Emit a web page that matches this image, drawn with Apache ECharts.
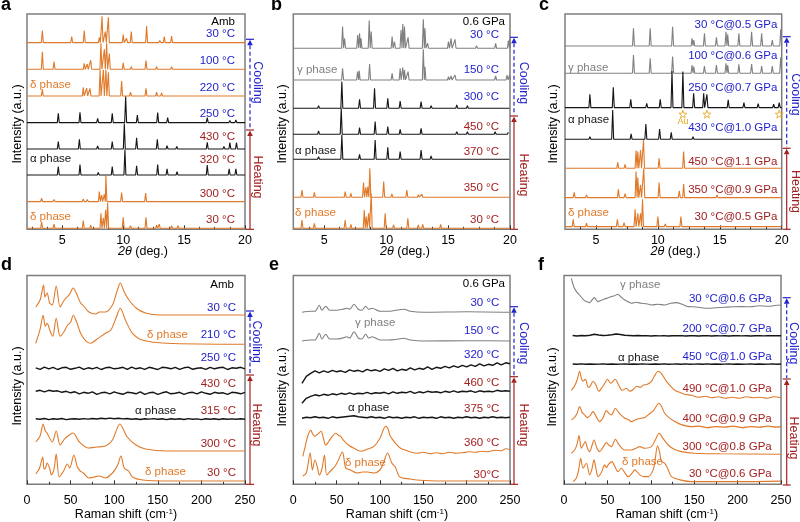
<!DOCTYPE html>
<html><head><meta charset="utf-8">
<script src="https://cdn.jsdelivr.net/npm/echarts@6/dist/echarts.min.js"></script>
<style>html,body{margin:0;padding:0;background:#fff}#c{width:800px;height:522px}</style>
</head><body><div id="c"></div>
<script>
// ================= DATA =================
// XRD peak lists: [2theta (deg), relative intensity]
// Panel a (ambient pressure), top to bottom
const aTemps = ['30 °C','100 °C','220 °C','250 °C','430 °C','320 °C','300 °C','30 °C'];
const aXrd30Cool = [[3.36,46],[5.77,23],[6.8,46],[8.04,20],[8.26,100],[8.53,42],[8.78,96],[10.0,31],[10.28,16],[10.66,42],[11.92,63],[13.0,8],[13.37,23],[13.97,25],[16.0,5],[16.5,4],[19.0,5]];
const aXrd100 = [[3.36,67],[4.32,29],[5.77,5],[6.8,23],[7.05,20],[7.33,35],[8.17,99],[8.45,76],[8.64,99],[8.86,60],[10.0,25],[10.66,10],[11.87,33],[12.74,10],[13.97,10],[15.0,5],[16.0,4],[18.9,5]];
const aXrd220 = [[3.36,25],[4.32,6],[5.77,6],[6.72,33],[7.0,30],[7.27,29],[8.1,100],[8.37,100],[8.58,100],[8.78,90],[9.87,57],[10.6,15],[11.87,29],[12.74,15],[13.15,12],[14.6,5]];
const aXrd250 = [[4.67,35],[6.45,39],[7.9,16],[9.1,35],[10.2,99],[11.16,29],[12.83,38],[13.65,19],[16.9,19],[18.76,8],[19.25,10]];
const aXrd430 = [[4.67,28],[6.4,37],[7.9,12],[9.1,28],[10.09,97],[11.1,43],[12.8,37],[13.6,13],[14.4,10],[16.9,25],[18.27,10],[18.76,24],[19.3,24]];
const aXrd320 = [[4.67,32],[6.45,40],[7.95,10],[9.1,32],[10.14,97],[11.1,35],[12.83,40],[13.6,23],[14.42,13],[16.9,38],[18.27,5],[18.7,23],[19.25,23]];
const aXrd300 = [[3.3,13],[4.32,8],[6.72,10],[7.05,8],[8.04,38],[8.23,25],[8.45,28],[8.58,97],[9.87,34],[11.84,32],[12.9,6],[14.1,4]];
const aXrd30Heat = [[3.3,25],[4.32,16],[6.72,29],[7.33,12],[8.17,57],[8.37,40],[8.56,70],[8.72,97],[10.0,42],[10.6,10],[11.87,42],[12.74,12],[12.96,16],[13.97,10],[14.5,10],[16.2,4],[17.6,4],[19.0,4]];

// Panel b (0.6 GPa)
const bTemps = ['30 °C','150 °C','300 °C','450 °C','370 °C','350 °C','30 °C'];
const bXrd30Cool = [[6.48,65],[6.64,30],[7.7,40],[7.85,45],[7.97,30],[8.63,83],[8.79,50],[10.48,35],[10.67,20],[11.2,55],[11.34,73],[11.48,65],[11.77,33],[13.0,87],[13.13,60],[13.35,15],[15.03,20],[15.24,30],[15.56,27],[17.3,8],[18.84,15],[19.87,23],[19.98,30]];
const bXrd150 = [[6.48,35],[7.69,25],[7.82,28],[8.66,48],[10.48,20],[11.13,35],[11.34,37],[11.48,30],[11.77,25],[13.0,92],[13.13,40],[15.03,10],[15.24,12],[15.56,15],[18.84,12],[19.76,15],[19.97,15]];
const bXrd300 = [[4.54,8],[6.42,80],[7.85,27],[9.06,60],[10.13,30],[11.13,22],[12.82,20],[13.63,8],[14.5,6],[15.7,10],[16.56,8],[17.3,6],[18.8,6],[19.87,5]];
const bXrd450 = [[4.54,10],[6.37,78],[7.85,20],[9.11,38],[10.13,23],[11.13,15],[12.82,18],[13.63,6],[14.5,6],[15.7,8],[16.56,8],[17.3,6],[18.8,8],[19.87,6]];
const bXrd370 = [[4.54,8],[6.42,73],[7.85,15],[9.11,58],[10.13,36],[11.13,23],[12.82,28],[13.63,10],[14.5,4],[15.7,6],[17.3,4],[18.8,6],[19.87,4]];
const bXrd350 = [[3.2,22],[4.2,15],[5.5,4],[6.69,17],[7.15,12],[8.17,44],[8.36,30],[8.52,32],[8.68,87],[9.8,47],[10.46,10],[11.67,22],[12.6,8],[12.87,10],[14.4,6],[15.5,4]];
const bXrd30Heat = [[3.2,25],[4.2,15],[6.69,25],[7.15,12],[8.23,55],[8.39,35],[8.58,45],[8.79,105],[9.92,45],[10.6,10],[11.75,30],[12.6,10],[12.95,12],[14.4,12],[16.0,5],[17.4,5]];

// Panel c (temperature @ pressure)
const cTemps = ['30 °C@0.5 GPa','100 °C@0.6 GPa','250 °C@0.7 GPa','430 °C@1.0 GPa','450 °C@1.1 GPa','350 °C@0.9 GPa','30 °C@0.5 GPa'];
const cXrd30Cool = [[8.03,53],[9.38,53],[11.19,58],[12.76,23],[12.9,18],[13.76,38],[14.73,26],[15.5,43],[15.64,35],[16.54,38],[17.57,43],[18.38,38],[19.24,18],[19.92,50]];
const cXrd100 = [[8.03,55],[9.38,45],[11.19,50],[12.76,25],[12.9,20],[13.76,22],[14.73,25],[15.5,30],[15.64,25],[16.54,27],[17.57,28],[18.38,22],[19.24,22],[19.92,48]];
const cXrd250 = [[4.51,40],[6.4,61],[7.81,25],[9.1,13],[10.19,25],[11.14,110],[12.02,108],[12.89,43],[13.7,43],[13.96,40],[15.68,23],[16.95,15],[18.1,12],[19.35,10],[19.8,15]];
const cXrd430 = [[4.51,8],[6.35,88],[7.84,16],[9.03,46],[10.14,31],[11.08,21],[12.84,8],[13.7,5],[15.68,6],[16.5,3],[18.1,3]];
const cXrd450 = [[3.24,5],[6.76,18],[7.35,12],[8.24,53],[8.38,50],[8.6,55],[8.84,85],[10.1,30],[12.08,50],[13.3,6]];
const cXrd350 = [[3.24,16],[4.24,8],[6.81,25],[7.35,12],[8.24,78],[8.38,60],[8.6,38],[8.86,88],[10.1,45],[11.73,20],[12.08,41],[14.78,8]];
const cXrd30Heat = [[3.16,22],[4.24,10],[6.73,22],[7.27,12],[8.16,52],[8.38,40],[8.6,40],[8.76,82],[10.0,30],[10.6,8],[11.86,30],[13.0,6],[13.7,6],[14.78,6]];
const auPeaks = [12.02, 13.96, 19.8];

// Raman spectra: [shift (cm-1), intensity]; noisy spectra sampled on ramanGrid
const ramanGrid = [10,15,20,25,30,35,40,45,50,55,60,65,70,75,80,85,90,95,100,105,110,115,120,125,130,135,140,145,150,155,160,165,170,175,180,185,190,195,200,205,210,215,220,225,230,235,240,245,250];

// Panel d (ambient)
const dTemps = ['30 °C','210 °C','250 °C','430 °C','315 °C','300 °C','30 °C'];
const dRaman30Cool = [[10,8],[15,15],[19,30],[20.5,18],[23,22],[26,12],[29,10],[33.5,29],[38,8],[42,14],[46,18],[49,21],[53,27],[56.5,22],[61.5,12],[65,9],[71,3],[79,1],[83,3],[90,3],[98,10],[103,23],[107,32],[111.5,23],[117,15],[125,7],[136,2],[152,0],[250,0]];
const dRaman210 = [[10,1],[15,15],[18.5,29],[21,18],[23,21],[27,12],[29.5,8],[33.5,26],[38,8],[42,12],[46.5,19],[50,22],[53,29],[57,22],[62,10],[68,3],[73,1],[80,5],[90,11],[96,14],[102,26],[107,36],[113,24],[121,11],[133,4],[160,1],[250,0]];
const dRaman250 = [0.5,-1,1.2,-0.5,1,-1.2,0.5,1,-1,0,1.2,-1,0.5,-0.5,1,-1.2,0.5,1,-0.5,0,1,-1,1.2,-0.5,0.5,-1,1,0,-1.2,1,0.5,-0.5,1,-1,0.5,1.2,-1,0,0.5,-1,1,-0.5,0.5,1,-1.2,0.5,0,1,-0.5];
const dRaman430 = [2,3,1.5,3,2,2.5,1,2,0.5,1.5,-0.5,1,0,1.5,-1,0.5,1,-0.5,1.5,0,-1,1,0.5,-0.5,1.5,-1,0.5,1,-1,0.5,1.5,-0.5,0,1,-1,0.5,1,-0.5,1.5,0,-1,1,0,0.5,-1,1,0.5,-0.5,1];
const dRaman315 = [0.5,0,0.8,-0.3,0.5,0,0.8,-0.3,0.3,0.6,0,0.7,0.2,0.8,0.3,1,0.5,1.2,0.6,1,0.4,0.8,0,0.6,-0.2,0.5,0.2,0.7,0,0.5,-0.3,0.6,0.1,0.5,-0.2,0.7,0,0.4,-0.3,0.6,0.1,0.5,-0.2,0.6,0,0.4,0.1,0.6,0];
const dRaman300 = [[10,9],[15,15],[18.5,27],[21,20],[23,18],[29,9],[33.5,20],[38,6],[43,12],[47,15],[53,18],[56,15],[60,9],[70,3],[80,4],[90,5],[98,11],[106.5,27],[115,14],[125,6],[136,2],[160,0],[250,0]];
const dRaman30Heat = [[10,7],[14,12],[18.1,24],[19.5,12],[21.2,13],[23,18],[25.8,13],[28,6],[31,12],[33.5,27],[37,4],[42,10],[46.2,17],[49,13],[53.8,26],[57.7,14],[61,10],[64.6,8],[71,3],[77,4],[82.7,5],[90,3],[98,8],[104,16],[107.7,25],[111.5,13],[116.5,10],[121,4],[133,1],[160,0],[250,0]];

// Panel e (0.6 GPa)
const eTemps = ['30 °C','150 °C','320 °C','460 °C','375 °C','360 °C','30°C'];
const eRaman30Cool = [[10,0],[20,1],[25,1],[30,7],[33,2],[37.5,6],[42,2],[50,2],[57,3],[61.7,4],[65,3],[70,8],[75,3],[79,2],[83.5,6],[87,3],[91,4],[100,1],[110,1],[118,2],[127.6,3],[135,1],[150,0],[200,0.5],[250,0]];
const eRaman150 = [[10,0],[20,1],[25,1],[30,7.7],[33,2],[37.5,6.7],[42,2],[50,2],[57,3],[61.7,4.3],[65,3],[70,9.3],[75,3],[79,2],[83.5,6.7],[87,3],[91,4.3],[100,1],[110,1],[118,1.5],[127.6,2.7],[135,1],[150,0],[200,0.3],[250,0]];
const eRaman320 = [0,7,10,12.5,10.5,12.5,11,13,11.5,12.5,11,13.5,12,13,11.5,14,12.5,13.5,12,14.5,13,15,12.5,14,13,15.5,13.5,15,14,16.5,14,16,15,17,15.5,17.5,16,18,16.5,18.5,17,19.5,17.5,19,18,20.5,18.5,20.5,19.5];
const eRaman460 = [0,5,7,8.5,7.5,9,8,9.5,8.5,10,9,10.5,9,10,9.5,11,9.5,10.5,10,11,9.5,11.5,10,11,10.5,12,10,11.5,10.5,12,11,11.5,10.5,12,11,12.5,11,12,11.5,12.5,11,12.5,11.5,12,11.5,13,12,12.5,12];
const eRaman375 = [0,1,0.5,1.5,0.5,1,0,1.5,0.5,1,1.5,2,2.5,1.5,1,0.5,1.5,0.5,1,0,1.5,0.5,1,0,1,0.5,1.5,0,1,0.5,1,0,1.5,0.5,1,0,1,0.5,1.5,0.5,1,0,1,0.5,1.5,0.5,1,0.5,1];
const eRaman360 = [[11,-3],[14,8],[17,18],[20.3,23],[22.5,19],[25,17],[28,19],[32,22],[35,14],[37.5,8],[41,12],[45,17],[49,20],[52,18],[54.6,17],[58,13],[64,8],[70,5],[78,2],[85,4],[93,7],[100,15],[106.5,27],[109,25],[112,17],[118,10],[123.8,5],[130,3],[136,1],[143,0],[150,1],[158,-0.5],[165,0.5],[172,-0.5],[180,1],[188,0],[195,0.5],[203,1.5],[210,1],[218,2],[225,1.5],[232,3],[240,2.5],[245,4.5],[250,3.5]];
const eRaman30Heat = [[11,5],[15,8],[19.5,28],[22,11],[25,21],[28,13],[30,6],[33,12],[36,26],[38.5,6],[43,10],[47.5,14],[51,19],[56.7,29],[60.5,13],[66,11],[74,8],[80,9],[85.6,9],[93,8],[100,11],[104,18],[108.7,28],[113.7,18],[117.6,14],[123,4],[135,2],[142.5,1],[170,0],[250,0]];

// Panel f (temperature @ pressure)
const fTemps = ['30 °C@0.6 GPa','200 °C@0.7 GPa','450 °C@1.0 GPa','490 °C@1.0 GPa','400 °C@0.9 GPa','300 °C@0.8 GPa','30 °C@0.6 GPa'];
const fRaman30Cool = [[8.5,30],[10,25],[12,20],[15,16],[18,13.3],[22,9],[25.8,6.7],[29.6,5.7],[32,8],[35,10.7],[39,6.7],[43,8],[46.9,9.3],[51,10.5],[54.6,11.7],[58,12.5],[62,14],[66,11],[70,8.3],[74,6.5],[77.7,5],[83,6],[89,5],[95,4.5],[100.8,3.3],[108,4],[116,3.3],[123,5],[129.6,5.7],[136,4],[143,1.7],[150,1.5],[158,0.5],[166,0],[175,0.5],[185,1],[195,1.5],[205,1.7],[215,1.5],[225,2.5],[235,2],[245,3],[250,3.3]];
const fRaman200 = [0.5,0,0.5,0.3,0.8,1.7,1,0.5,0.8,1.3,2,1.5,0.7,0.5,0.3,0.5,0.2,0.4,0,0.3,0.1,0.4,0,0.3,0.2,0.4,0,0.2,0.3,0,0.2,0.4,0,0.3,0.1,0.3,0,0.2,0.4,0.1,0.3,0,0.2,0.4,0.1,0.3,0.2,0.4,0.2];
const fRaman450 = [0.3,0,0.4,0.1,0.3,0,0.2,0.4,0.1,0.3,0,0.2,0.4,0,0.3,0.1,0.4,0.2,0,0.3,0.1,0.4,0,0.2,0.3,0.1,0.4,0,0.2,0.3,0,0.4,0.1,0.3,0,0.2,0.4,0.1,0.3,0,0.2,0.4,0.1,0.3,0,0.2,0.4,0.1,0.3];
const fRaman490 = [[8.5,8],[12,12],[15,18],[18,27],[20,20],[22,17],[24.6,19],[28,11],[30,12],[33.5,17],[37,13],[40,7],[44,11],[47,15],[50,19],[54,15],[59,19],[63,13],[67,8],[72,10],[76,7],[80,9],[83.5,12],[88,11],[91,13],[96,14],[100.8,17],[104,22],[108.5,27],[112,25],[115,21],[118,17],[123,12],[127.7,8],[133,6],[139,4],[147,3],[155,1],[163,2],[170,0.5],[178,1.5],[186,0],[194,1],[202,0],[210,1.5],[218,0.5],[226,1],[234,0],[242,1.5],[250,0.5]];
const fRaman400 = [[8.5,7.7],[12,10],[15,14],[18,21],[21,15],[23.8,12.7],[27,10],[30,12],[33.5,16],[37,11],[41,6],[45,10],[48.8,17],[52,14],[54.6,12.7],[59.2,19.3],[63,15],[70,9.3],[74,8],[77.7,6],[83,8],[89,9.3],[93,10],[97,12.7],[103,17],[109.6,24.3],[113,20],[116,14.3],[121,10],[127.7,6],[135,3],[147,1],[155,1.5],[165,0],[175,1],[185,0.5],[195,1.5],[205,0],[215,1],[225,0.5],[235,1.5],[245,0.5],[250,1]];
const fRaman300 = [[8.5,1],[12,4],[15,10],[17.3,18.7],[20,6],[22,9],[24.6,12.7],[27,6],[29.6,2.7],[32,8],[34.6,14.3],[38,6],[41,2.7],[45,7],[48.8,11.7],[52,9],[54.6,7.7],[59.2,15],[63,10],[70,4.3],[77.7,4.3],[83,6],[87.3,7.7],[93,6],[100.8,7.7],[105,14],[109.6,21],[114,16],[120,9.3],[127,5],[135,2.7],[150,1],[180,0.5],[250,0]];
const fRaman30Heat = [[10.4,0],[14,3],[17,12],[19.2,23.3],[22,13.3],[25.8,18.3],[29.6,6.7],[32,12],[34.6,21.7],[37,12],[39.2,5],[43,9],[46.9,16.7],[49,14],[51,17],[55.4,20],[58,16],[62.3,10],[66,13.3],[70,9],[73.8,5],[78,8],[81.5,11.7],[87.3,6.7],[92,5],[97,5],[102.7,11.7],[105,22],[107.7,35.7],[110,30],[112.3,20],[116.2,18.3],[120,12],[123.8,5],[135,1.5],[146.9,0],[200,0],[250,0.5]];

// ================= STYLE / LAYOUT =================
const FONT = "'Liberation Sans', Arial, Helvetica, sans-serif";
const O = '#E07A2A', G = '#808080', K = '#151515', BLUE = '#2222CC', RED = '#A32020', AU = '#E8A317';
const xrdMinor = [2.5,3.75,6.25,7.5,8.75,11.25,12.5,13.75,16.25,17.5,18.75];
const TOP = {top:14, height:215.3}, BOT = {top:275.5, height:208.8};

const panels = [
 {kind:'xrd', grid:{left:27,width:218,...TOP}, xmin:2.1, xmax:20, scale:0.263,
  traces:[aXrd30Cool,aXrd100,aXrd220,aXrd250,aXrd430,aXrd320,aXrd300,aXrd30Heat],
  offsets:[186.7,160,133.3,106.7,80.3,54.3,27.7,1], colors:[O,O,O,K,K,K,O,O],
  temps:aTemps, tempY:[34.3,61,87.7,114,136.7,160,194.3,220], nCool:4, tempX:235,
  header:['Amb',235,21.7], phases:[['δ phase',O,30,85],['α phase',K,30,159.3],['δ phase',O,30,217.3]],
  arrow:{x:250,top:39.3,mid:130,bot:229.3,tx:257.5,cy:82.5,hy:177},
  letter:['a',1,14], yName:[18,124], xName:[143,251.5]},
 {kind:'xrd', grid:{left:293.3,width:216.7,...TOP}, xmin:2.5, xmax:20, scale:1/3,
  traces:[bXrd30Cool,bXrd150,bXrd300,bXrd450,bXrd370,bXrd350,bXrd30Heat],
  offsets:[181,149.3,121,95,70,32,1], colors:[G,G,K,K,K,O,O],
  temps:bTemps, tempY:[35,70,96.7,126.7,151.7,188.3,220], nCool:3, tempX:499,
  header:['0.6 GPa',505,21.7], phases:[['γ phase',G,297,70],['α phase',K,295,150.7],['δ phase',O,295,213]],
  arrow:{x:514,top:37.3,mid:116,bot:229.3,tx:523.3,cy:83,hy:175},
  letter:['b',271,14], yName:[283,124], xName:[405,251.5]},
 {kind:'xrd', grid:{left:565,width:216.7,...TOP}, xmin:2.5, xmax:20, scale:1/3,
  traces:[cXrd30Cool,cXrd100,cXrd250,cXrd430,cXrd450,cXrd350,cXrd30Heat],
  offsets:[183.3,156,121.7,90,61,31.7,2.7], colors:[G,G,K,K,O,O,O],
  temps:cTemps, tempY:[25,56,88.3,128.3,161.7,190,217.3], nCool:4, tempX:777.3,
  header:null, phases:[['γ phase',G,568,68.3],['α phase',K,568,120],['δ phase',O,568,213.3]],
  arrow:{x:786.7,top:36.7,mid:148.3,bot:229.3,tx:795,cy:94.5,hy:191.5},
  letter:['c',539,14], yName:[554,124], xName:[675.5,251.5], au:true},
 {kind:'raman', grid:{left:27,width:218,...BOT},
  traces:[dRaman30Cool,dRaman210,dRaman250,dRaman430,dRaman315,dRaman300,dRaman30Heat],
  offsets:[169.3,140,116,91,65,33.3,3.3], colors:[O,O,K,K,K,O,O],
  temps:dTemps, tempY:[308,335,358,384,411,444,473], nCool:3, tempX:236,
  header:['Amb',234,285], phases:[['δ phase',O,147,335],['α phase',K,135,411],['δ phase',O,145,472]],
  arrow:{x:250,top:311,mid:375,bot:484.3,tx:256.5,cy:341.7,hy:425},
  letter:['d',1,274], yName:[18,386], xName:[126,515]},
 {kind:'raman', grid:{left:293.3,width:216.7,...BOT},
  traces:[eRaman30Cool,eRaman150,eRaman320,eRaman460,eRaman375,eRaman360,eRaman30Heat],
  offsets:[172,143.3,101,81,66,31,3.3], colors:[G,G,K,K,K,O,O],
  temps:eTemps, tempY:[303.3,331,355,383.3,409,443.3,475], nCool:3, tempX:499.3,
  header:['0.6 GPa',505,284.3], phases:[['γ phase',G,355,323.3],['α phase',K,348,408.3],['δ phase',O,345,463.3]],
  arrow:{x:514,top:306.7,mid:376.7,bot:484.3,tx:523.3,cy:343.3,hy:425},
  letter:['e',269,274], yName:[283,387], xName:[397,515]},
 {kind:'raman', grid:{left:564,width:217,...BOT},
  traces:[fRaman30Cool,fRaman200,fRaman450,fRaman490,fRaman400,fRaman300,fRaman30Heat],
  offsets:[176,148.3,120,86,56.7,30,2.7], colors:[G,K,K,O,O,O,O],
  temps:fTemps, tempY:[299,329,356.7,389,419,446.7,474.3], nCool:3, tempX:771.7,
  header:null, phases:[['γ phase',G,620,285],['α phase',K,618,357.7],['δ phase',O,622,461.7]],
  arrow:{x:786.7,top:297.7,mid:379,bot:485,tx:793.3,cy:343.3,hy:438},
  letter:['f',538,274], yName:[553,387], xName:[667,515]}
];

// ================= BUILD =================
function xrdLine(peaks, p, off){
  const w = 0.08, pts = [[p.xmin, off]];
  peaks.slice().sort((a,b)=>a[0]-b[0]).forEach(([x,h])=>{
    pts.push([x-w, off],[x, off + h*p.scale],[x+w, off]);
  });
  pts.push([p.xmax, off]);
  return pts;
}
function ramanLine(tr, off){
  if (typeof tr[0] === 'number') return ramanGrid.map((x,k)=>[x, off + tr[k]]);
  return tr.map(([x,v])=>[x, off+v]);
}
function txt(x,y,text,color,align,size,extra){
  return Object.assign({type:'text', x, y, silent:true, z:100,
    style:{text, fill:color, font:`${size||11}px ${FONT}`, align:align||'left', verticalAlign:'middle'}}, extra||{});
}
function arrowEls(a){
  const s=1.2;
  return [
    {type:'line', shape:{x1:a.x-4,y1:a.top,x2:a.x+4,y2:a.top}, style:{stroke:BLUE,lineWidth:s}},
    {type:'polygon', shape:{points:[[a.x,a.top+0.5],[a.x-2.8,a.top+6],[a.x+2.8,a.top+6]]}, style:{fill:BLUE}},
    {type:'line', shape:{x1:a.x,y1:a.top+6,x2:a.x,y2:a.mid-1}, style:{stroke:BLUE,lineWidth:s,lineDash:[4,2.5]}},
    {type:'line', shape:{x1:a.x-4,y1:a.mid,x2:a.x+4,y2:a.mid}, style:{stroke:RED,lineWidth:s}},
    {type:'polygon', shape:{points:[[a.x,a.mid+0.5],[a.x-2.8,a.mid+6],[a.x+2.8,a.mid+6]]}, style:{fill:RED}},
    {type:'line', shape:{x1:a.x,y1:a.mid+6,x2:a.x,y2:a.bot}, style:{stroke:RED,lineWidth:s}},
    {type:'line', shape:{x1:a.x-4,y1:a.bot,x2:a.x+4,y2:a.bot}, style:{stroke:RED,lineWidth:s}},
    txt(a.tx,a.cy,'Cooling',BLUE,'center',12.5,{rotation:-Math.PI/2}),
    txt(a.tx,a.hy,'Heating',RED,'center',12.5,{rotation:-Math.PI/2})
  ];
}

const grids=[], xAxes=[], yAxes=[], series=[], graphics=[];
const tickLabelStyle = {fontSize:12.5, color:'#000', fontFamily:FONT};
panels.forEach((p,i)=>{
  grids.push(Object.assign({show:true, borderColor:'#7d7d7d', borderWidth:1.5}, p.grid));
  yAxes.push({type:'value', gridIndex:i, min:0, max:p.grid.height, show:false});
  const xi = xAxes.length;
  if (p.kind==='xrd'){
    xAxes.push({type:'value', gridIndex:i, min:p.xmin, max:p.xmax, position:'bottom',
      axisLine:{show:false}, splitLine:{show:false},
      axisTick:{show:true, inside:true, length:4, customValues:[5,10,15,20], lineStyle:{color:'#333'}},
      axisLabel:Object.assign({customValues:[5,10,15,20], margin:5}, tickLabelStyle)});
    xAxes.push({type:'value', gridIndex:i, min:p.xmin, max:p.xmax, position:'bottom',
      axisLine:{show:false}, splitLine:{show:false}, axisLabel:{show:false},
      axisTick:{show:true, inside:true, length:2.5, customValues:xrdMinor.filter(v=>v>p.xmin), lineStyle:{color:'#333'}}});
  } else {
    xAxes.push({type:'value', gridIndex:i, min:0, max:250, interval:50, position:'bottom',
      axisLine:{show:false}, splitLine:{show:false},
      axisTick:{show:true, inside:true, length:4, lineStyle:{color:'#333'}},
      minorTick:{show:true, splitNumber:2, length:2.5, lineStyle:{color:'#333'}},
      axisLabel:Object.assign({margin:10}, tickLabelStyle)});
  }
  p.traces.forEach((tr,k)=>{
    const off = p.offsets[k];
    const noisy = p.kind==='raman' && typeof tr[0]==='number';
    series.push({type:'line', xAxisIndex:xi, yAxisIndex:i, showSymbol:false, silent:true,
      data: p.kind==='xrd' ? xrdLine(tr,p,off) : ramanLine(tr,off),
      smooth: p.kind==='raman' && !noisy ? 0.3 : false,
      lineStyle:{color:p.colors[k], width: noisy?1.4:1.1}, z:2});
  });
  if (p.au){
    series.push({type:'scatter', xAxisIndex:xi, yAxisIndex:i, silent:true,
      data: auPeaks.map(x=>[x, p.offsets[2]-6.5]),
      symbol:'path://M50,0 L61,35 L98,35 L68,57 L79,91 L50,70 L21,91 L32,57 L2,35 L39,35 Z',
      symbolSize:8, itemStyle:{color:'rgba(0,0,0,0)', borderColor:AU, borderWidth:1}, z:3});
    graphics.push(txt(683,122,'Au',AU,'center',9));
  }
  // labels
  p.temps.forEach((t,k)=>graphics.push(txt(p.tempX, p.tempY[k], t, k<p.nCool?BLUE:RED, 'right', 11.5)));
  if (p.header) graphics.push(txt(p.header[1], p.header[2], p.header[0], '#000', 'right', 11.5));
  p.phases.forEach(ph=>graphics.push(txt(ph[2], ph[3], ph[0], ph[1], 'left', 11.5)));
  arrowEls(p.arrow).forEach(e=>graphics.push(e));
  graphics.push({type:'text', x:p.letter[1], y:p.letter[2], silent:true,
    style:{text:p.letter[0], fill:'#000', font:`bold 18px ${FONT}`, align:'left', verticalAlign:'bottom'}});
  graphics.push(txt(p.yName[0], p.yName[1], 'Intensity (a.u.)', '#000', 'center', 12.5, {rotation:Math.PI/2}));
  if (p.kind==='xrd'){
    graphics.push({type:'text', x:p.xName[0], y:p.xName[1], silent:true,
      style:{text:'{i|2θ} (deg.)', fill:'#000', font:`12.5px ${FONT}`, align:'center', verticalAlign:'middle',
        rich:{i:{fontStyle:'italic', fontSize:12.5, fontFamily:FONT}}}});
  } else {
    graphics.push({type:'text', x:p.xName[0], y:p.xName[1], silent:true,
      style:{text:'Raman shift (cm{s|-1})', fill:'#000', font:`12.5px ${FONT}`, align:'center', verticalAlign:'middle',
        rich:{s:{fontSize:8, verticalAlign:'top', padding:[0,0,6,0], fontFamily:FONT}}}});
  }
});

const chart = echarts.init(document.getElementById('c'), null, {renderer:'canvas', width:800, height:522});
chart.setOption({animation:false, backgroundColor:'#fff', grid:grids, xAxis:xAxes, yAxis:yAxes, series, graphic:graphics});
</script></body></html>
